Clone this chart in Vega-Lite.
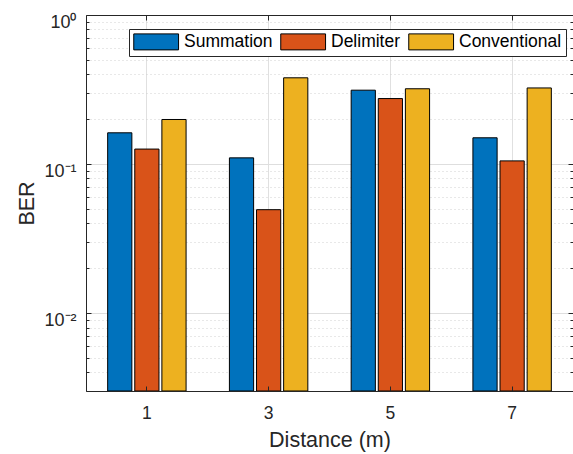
{
  "$schema": "https://vega.github.io/schema/vega-lite/v6.json",
  "width": 487,
  "height": 376,
  "autosize": {"type": "none"},
  "padding": {"left": 86, "top": 15, "right": 0, "bottom": 63},
  "background": "white",
  "config": {"view": {"stroke": null}, "font": "Liberation Sans"},
  "data": {
    "values": [
      {"Distance": 1, "Scheme": "Summation", "BER": 0.162},
      {"Distance": 1, "Scheme": "Delimiter", "BER": 0.126},
      {"Distance": 1, "Scheme": "Conventional", "BER": 0.199},
      {"Distance": 3, "Scheme": "Summation", "BER": 0.110},
      {"Distance": 3, "Scheme": "Delimiter", "BER": 0.0494},
      {"Distance": 3, "Scheme": "Conventional", "BER": 0.379},
      {"Distance": 5, "Scheme": "Summation", "BER": 0.313},
      {"Distance": 5, "Scheme": "Delimiter", "BER": 0.275},
      {"Distance": 5, "Scheme": "Conventional", "BER": 0.320},
      {"Distance": 7, "Scheme": "Summation", "BER": 0.150},
      {"Distance": 7, "Scheme": "Delimiter", "BER": 0.105},
      {"Distance": 7, "Scheme": "Conventional", "BER": 0.324}
    ]
  },
  "layer": [
    {
      "mark": {"type": "bar", "stroke": "#000000", "strokeWidth": 1},
      "encoding": {
        "x": {
          "field": "Distance", "type": "ordinal",
          "scale": {"domain": [1, 3, 5, 7], "paddingInner": 0.356, "paddingOuter": 0.178},
          "axis": {"orient": "bottom", "zindex": 0, "grid": true, "gridColor": "#e0e0e0", "gridWidth": 1, "bandPosition": 0.5, "ticks": false, "labels": false, "domain": false, "title": null}
        },
        "xOffset": {
          "field": "Scheme", "type": "nominal",
          "sort": ["Summation", "Delimiter", "Conventional"],
          "scale": {"domain": ["Summation", "Delimiter", "Conventional"], "paddingInner": 0.107, "paddingOuter": 0}
        },
        "y": {
          "field": "BER", "type": "quantitative",
          "scale": {"type": "log", "domain": [0.003, 1], "nice": false},
          "axis": {
            "orient": "left", "zindex": 0,
            "values": [0.003, 0.004, 0.005, 0.006, 0.007, 0.008, 0.009, 0.01, 0.02, 0.03, 0.04, 0.05, 0.06, 0.07, 0.08, 0.09, 0.1, 0.2, 0.3, 0.4, 0.5, 0.6, 0.7, 0.8, 0.9, 1],
            "grid": true,
            "gridColor": {"condition": {"test": "datum.value == 1 || datum.value == 0.1 || datum.value == 0.01", "value": "#dedede"}, "value": "#d0d0d0"},
            "gridDash": {"condition": {"test": "datum.value == 1 || datum.value == 0.1 || datum.value == 0.01", "value": []}, "value": [1, 3]},
            "ticks": true,
            "tickColor": "#262626",
            "tickSize": {"condition": {"test": "datum.value == 1 || datum.value == 0.1 || datum.value == 0.01", "value": -5}, "value": -3},
            "labels": false, "domain": false, "title": null
          }
        },
        "y2": {"datum": 0.003},
        "color": {
          "field": "Scheme", "type": "nominal",
          "sort": ["Summation", "Delimiter", "Conventional"],
          "scale": {"domain": ["Summation", "Delimiter", "Conventional"], "range": ["#0072BD", "#D95319", "#EDB120"]},
          "legend": {
            "orient": "none", "legendX": 43, "legendY": 14,
            "direction": "horizontal", "title": null,
            "symbolType": "M-1,-1H4.6V1H-1Z", "symbolSize": 256,
            "symbolStrokeColor": "#000000", "symbolStrokeWidth": 1, "symbolOpacity": 1,
            "labelFontSize": 17.5, "labelColor": "#000000", "labelOffset": 33.5,
            "columnPadding": 5, "padding": 4,
            "strokeColor": "#262626", "fillColor": "#ffffff"
          }
        }
      }
    },
    {
      "mark": {"type": "bar", "opacity": 0},
      "encoding": {
        "x": {
          "field": "Distance", "type": "ordinal",
          "scale": {"domain": [1, 3, 5, 7], "paddingInner": 0.356, "paddingOuter": 0.178},
          "axis": {"orient": "bottom", "zindex": 1, "ticks": false, "labels": true, "labelFontSize": 17.5, "labelColor": "#262626", "labelBaseline": "alphabetic", "labelPadding": 27, "labelAngle": 0, "domain": true, "domainColor": "#262626", "domainWidth": 1, "grid": false, "title": "Distance (m)", "titleFontSize": 21.5, "titleFontWeight": "normal", "titleColor": "#262626", "titleBaseline": "alphabetic", "titleX": 243.5, "titleY": 55}
        },
        "y": {
          "field": "BER", "type": "quantitative",
          "scale": {"type": "log", "domain": [0.003, 1], "nice": false},
          "axis": {
            "orient": "left", "zindex": 1, "values": [0.01, 0.1, 1], "ticks": false,
            "labelExpr": "datum.value == 1 ? '10⁰' : datum.value == 0.1 ? '10⁻¹' : datum.value == 0.01 ? '10⁻²' : ''",
            "labelFontSize": 18, "labelColor": "#262626", "labelBaseline": "alphabetic", "labelOffset": 12, "labelPadding": 10, "labelAlign": "right",
            "labelFlush": false, "labelOverlap": false, "labelBound": false,
            "domain": true, "domainColor": "#262626", "domainWidth": 1, "grid": false,
            "title": "BER", "titleFontSize": 21.5, "titleFontWeight": "normal", "titleColor": "#262626", "titleX": -53, "titleY": 188, "titleBaseline": "alphabetic", "titleAngle": -90
          }
        }
      }
    },
    {
      "mark": {"type": "bar", "opacity": 0},
      "encoding": {
        "x": {
          "field": "Distance", "type": "ordinal",
          "scale": {"domain": [1, 3, 5, 7], "paddingInner": 0.356, "paddingOuter": 0.178},
          "axis": {"orient": "bottom", "zindex": 1, "ticks": true, "tickSize": -5, "tickColor": "#262626", "bandPosition": 0.5, "labels": false, "domain": false, "grid": false, "title": null}
        },
        "y": {
          "field": "BER", "type": "quantitative",
          "scale": {"type": "log", "domain": [0.003, 1], "nice": false},
          "axis": {
            "orient": "right", "zindex": 1,
            "values": [0.003, 0.004, 0.005, 0.006, 0.007, 0.008, 0.009, 0.01, 0.02, 0.03, 0.04, 0.05, 0.06, 0.07, 0.08, 0.09, 0.1, 0.2, 0.3, 0.4, 0.5, 0.6, 0.7, 0.8, 0.9, 1],
            "ticks": true, "tickColor": "#262626",
            "tickSize": {"condition": {"test": "datum.value == 1 || datum.value == 0.1 || datum.value == 0.01", "value": -5}, "value": -3},
            "labels": false, "domain": true, "domainColor": "#262626", "grid": false, "title": null
          }
        }
      }
    },
    {
      "mark": {"type": "bar", "opacity": 0},
      "encoding": {
        "x": {
          "field": "Distance", "type": "ordinal",
          "scale": {"domain": [1, 3, 5, 7], "paddingInner": 0.356, "paddingOuter": 0.178},
          "axis": {"orient": "top", "zindex": 1, "ticks": true, "tickSize": -5, "tickColor": "#262626", "bandPosition": 0.5, "labels": false, "domain": true, "domainColor": "#262626", "grid": false, "title": null}
        },
        "y": {
          "field": "BER", "type": "quantitative",
          "scale": {"type": "log", "domain": [0.003, 1], "nice": false},
          "axis": null
        }
      }
    }
  ],
  "resolve": {"axis": {"x": "independent", "y": "independent"}}
}
